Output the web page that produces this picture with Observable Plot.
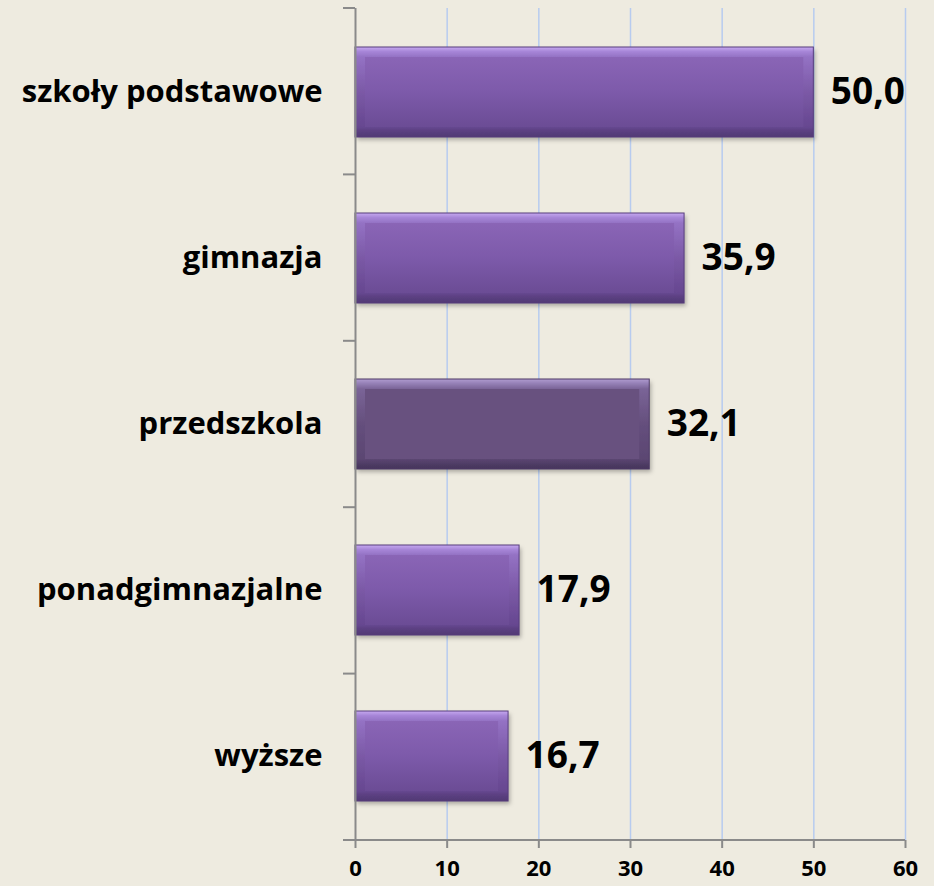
<!DOCTYPE html>
<html>
<head>
<meta charset="utf-8">
<script src="https://cdn.jsdelivr.net/npm/d3@7"></script>
<script src="https://cdn.jsdelivr.net/npm/@observablehq/plot@0.6"></script>
<style>
  html, body { margin: 0; padding: 0; background: #eeebe0; }
  #chart svg { display: block; }
</style>
</head>
<body>
<div id="chart"></div>
<script>
const categories = ["szkoły podstawowe", "gimnazja", "przedszkola", "ponadgimnazjalne", "wyższe"];
const values = [50.0, 35.9, 32.1, 17.9, 16.7];
const highlighted = [false, false, true, false, false];
const xTicks = [0, 10, 20, 30, 40, 50, 60];

const data = categories.map((c, i) => ({category: c, value: values[i], dark: highlighted[i]}));
const fmt = v => v.toFixed(1).replace(".", ",");

const W = 934, H = 886;
const M = {top: 8, right: 29, bottom: 46, left: 355};

const chart = Plot.plot({
  width: W,
  height: H,
  marginTop: M.top,
  marginRight: M.right,
  marginBottom: M.bottom,
  marginLeft: M.left,
  style: {background: "#eeebe0", fontFamily: "'Open Sans', Lato, sans-serif", fontWeight: "bold", color: "#000"},
  x: {domain: [0, 60], label: null},
  y: {domain: categories, paddingInner: 0.46, paddingOuter: 0.23, label: null},
  color: {type: "identity"},
  marks: [
    Plot.gridX(xTicks.filter(d => d > 0), {stroke: "#b7cbef", strokeOpacity: 1, strokeWidth: 1.5}),
    Plot.barX(data, {x: "value", y: "category", fill: d => d.dark ? "url(#outerDark)" : "url(#outerGrad)", className: "bar-outer"}),
    Plot.barX(data, {x: "value", y: "category", fill: d => d.dark ? "#68517f" : "url(#innerGrad)", insetTop: 10, insetBottom: 10, insetLeft: 10, insetRight: 10}),
    Plot.barX(data, {x: "value", y: "category", fill: "none", stroke: d => d.dark ? "#4e3b66" : "#563c7c", strokeWidth: 1}),
    Plot.ruleX([0], {stroke: "#8a8a8a", strokeWidth: 2}),
    (index, scales, values, dims) => {
      const g = d3.create("svg:g").attr("stroke", "#8a8a8a").attr("stroke-width", 2);
      const n = categories.length;
      const step = (dims.height - dims.marginTop - dims.marginBottom) / n;
      for (let i = 0; i <= n; i++) {
        const y = dims.marginTop + i * step;
        g.append("line").attr("x1", dims.marginLeft - 12).attr("x2", dims.marginLeft).attr("y1", y).attr("y2", y);
      }
      const yb = dims.height - dims.marginBottom;
      g.append("line").attr("x1", dims.marginLeft - 12).attr("x2", dims.width - dims.marginRight).attr("y1", yb).attr("y2", yb);
      return g.node();
    },
    Plot.axisX({ticks: xTicks, tickSize: 8, tickPadding: 12, fontSize: 22, fontWeight: "bold", stroke: "#8a8a8a", strokeWidth: 2, tickFormat: d => String(d), label: null}),
    Plot.axisY({tickSize: 0, tickPadding: 33, fontSize: 31, fontWeight: "bold", label: null}),
    Plot.text(data, {x: "value", y: "category", text: d => fmt(d.value), dx: 17, textAnchor: "start", fontSize: 37, fontWeight: "bold", fill: "#000"})
  ]
});

const ns = "http://www.w3.org/2000/svg";
const defsHtml = `
  <linearGradient id="outerGrad" x1="0" y1="0" x2="0" y2="1">
    <stop offset="0" stop-color="#c6a9f0"/>
    <stop offset="0.05" stop-color="#a786d8"/>
    <stop offset="0.11" stop-color="#9472c4"/>
    <stop offset="0.5" stop-color="#7b59a6"/>
    <stop offset="0.89" stop-color="#664790"/>
    <stop offset="0.93" stop-color="#5c4182"/>
    <stop offset="1" stop-color="#513874"/>
  </linearGradient>
  <linearGradient id="innerGrad" x1="0" y1="0" x2="0" y2="1">
    <stop offset="0" stop-color="#8a65b6"/>
    <stop offset="0.5" stop-color="#7d5aaa"/>
    <stop offset="1" stop-color="#6b4c95"/>
  </linearGradient>
  <linearGradient id="outerDark" x1="0" y1="0" x2="0" y2="1">
    <stop offset="0" stop-color="#b09cd0"/>
    <stop offset="0.05" stop-color="#9580b6"/>
    <stop offset="0.11" stop-color="#7a6497"/>
    <stop offset="0.5" stop-color="#654f7d"/>
    <stop offset="0.89" stop-color="#5b4672"/>
    <stop offset="0.94" stop-color="#503d66"/>
    <stop offset="1" stop-color="#45345a"/>
  </linearGradient>
  <filter id="shadow" x="-5%" y="-10%" width="115%" height="130%">
    <feDropShadow dx="2" dy="3" stdDeviation="2" flood-color="#000" flood-opacity="0.28"/>
  </filter>`;
const defs = document.createElementNS(ns, "defs");
defs.innerHTML = defsHtml;
chart.insertBefore(defs, chart.firstChild);
const outer = chart.querySelector(".bar-outer");
if (outer) outer.setAttribute("filter", "url(#shadow)");

document.getElementById("chart").appendChild(chart);
</script>
</body>
</html>
